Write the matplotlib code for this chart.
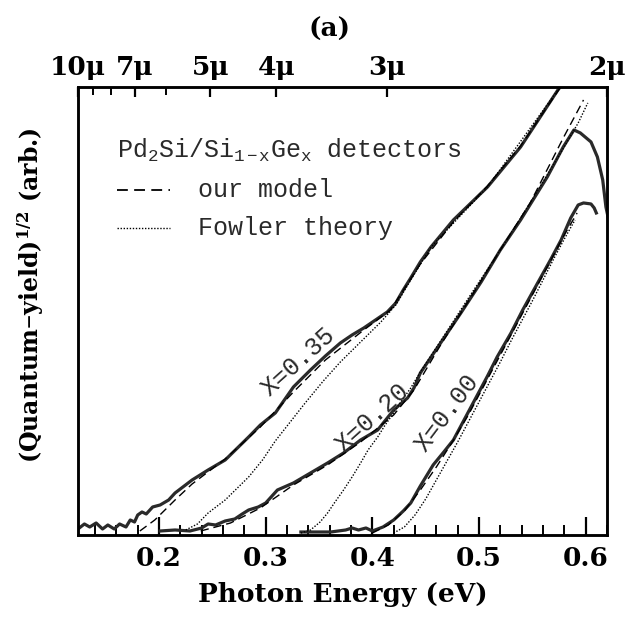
import numpy as np
import matplotlib
matplotlib.use('Agg')
import matplotlib.pyplot as plt
from matplotlib.ticker import FixedLocator, MultipleLocator, NullFormatter

HC = 1.24  # eV*um, photon energy <-> wavelength

# ---------------------------------------------------------------------------
# Data (photon energy in eV, sqrt(quantum yield) in arbitrary units)
# ---------------------------------------------------------------------------

# X = 0.35 measured
meas35_e = [0.124, 0.130, 0.135, 0.141, 0.147, 0.152, 0.158, 0.163, 0.169, 0.173,
            0.177, 0.180, 0.184, 0.188, 0.194, 0.201, 0.209, 0.215, 0.231, 0.246,
            0.262, 0.284, 0.295, 0.309, 0.326, 0.342, 0.356, 0.370, 0.381, 0.392,
            0.403, 0.414, 0.422, 0.429, 0.436, 0.445, 0.455, 0.476, 0.508, 0.539,
            0.574, 0.579]
meas35_y = [6, 11, 8, 12, 6, 10, 6, 11, 8, 15,
            13, 20, 23, 21, 28, 30, 35, 42, 55, 65,
            75, 98, 110, 122, 148, 165, 179, 192, 200, 207,
            215, 223, 232, 245, 257, 273, 288, 315, 348, 388,
            445, 452]

# X = 0.20 measured
meas20_e = [0.201, 0.215, 0.229, 0.240, 0.246, 0.253, 0.262, 0.271, 0.278, 0.284,
            0.293, 0.300, 0.311, 0.326, 0.342, 0.358, 0.373, 0.389, 0.405, 0.420,
            0.433, 0.439, 0.445, 0.464, 0.483, 0.502, 0.520, 0.539, 0.564, 0.579,
            0.589, 0.595, 0.605, 0.611, 0.616, 0.619, 0.621]
meas20_y = [4, 5, 4, 7, 11, 10, 14, 16, 21, 25,
            28, 32, 45, 52, 62, 72, 82, 95, 105, 125,
            137, 147, 162, 192, 222, 253, 285, 315, 358, 388,
            405, 402, 393, 378, 355, 328, 318]

# X = 0.00 measured
meas00_e = [0.333, 0.361, 0.375, 0.381, 0.387, 0.394, 0.400, 0.410, 0.420, 0.429,
            0.436, 0.445, 0.457, 0.467, 0.476, 0.487, 0.497, 0.508, 0.517, 0.530,
            0.541, 0.555, 0.567, 0.577, 0.586, 0.593, 0.598, 0.605, 0.608, 0.610]
meas00_y = [3, 3, 5, 7, 5, 7, 4, 8, 15, 24,
            32, 49, 70, 83, 95, 117, 137, 159, 178, 202,
            225, 252, 275, 295, 317, 330, 332, 331, 327, 322]

# our model (dashed)
model35_e = [0.182, 0.196, 0.215, 0.231, 0.262, 0.295, 0.326, 0.356, 0.392, 0.417,
             0.445, 0.476, 0.508, 0.539, 0.576]
model35_y = [4, 15, 35, 51, 76, 108, 143, 175, 205, 225,
             271, 313, 349, 389, 447]
model20_e = [0.239, 0.267, 0.295, 0.326, 0.358, 0.389, 0.420, 0.439, 0.464, 0.492,
             0.520, 0.548, 0.579, 0.598]
model20_y = [4, 12, 27, 50, 70, 93, 120, 145, 190, 237,
             285, 332, 397, 435]
model00_e = [0.400, 0.415, 0.430, 0.445, 0.460, 0.475, 0.490, 0.505, 0.520, 0.535,
             0.550, 0.565, 0.580, 0.592]
model00_y = [2, 10, 24, 45, 68, 93, 120, 150, 180, 210,
             240, 270, 300, 322]

# Fowler theory (dotted)
fowler35_e = [0.225, 0.236, 0.246, 0.262, 0.284, 0.297, 0.309, 0.323, 0.337, 0.354,
              0.370, 0.389, 0.408, 0.422, 0.436, 0.455, 0.508, 0.574, 0.576]
fowler35_y = [5, 11, 22, 35, 58, 75, 94, 113, 132, 154,
              173, 193, 213, 230, 255, 288, 348, 445, 448]
fowler20_e = [0.333, 0.342, 0.351, 0.358, 0.365, 0.373, 0.381, 0.389, 0.396, 0.405,
              0.412, 0.420, 0.426, 0.436, 0.445, 0.464, 0.492, 0.520, 0.548, 0.577,
              0.593, 0.602]
fowler20_y = [2, 5, 13, 22, 33, 45, 58, 72, 85, 98,
              110, 122, 132, 147, 163, 194, 240, 285, 332, 383,
              412, 432]
fowler00_e = [0.420, 0.430, 0.440, 0.450, 0.460, 0.470, 0.480, 0.490, 0.500, 0.510,
              0.520, 0.530, 0.540, 0.550, 0.560, 0.570, 0.580, 0.590]
fowler00_y = [2, 8, 20, 36, 55, 74, 93, 113, 133, 153,
              173, 194, 214, 234, 255, 276, 296, 315]

curve_labels = ['X=0.35', 'X=0.20', 'X=0.00']
label_e = [0.331, 0.400, 0.4705]
label_y = [173, 117, 122]
label_rot = [42, 42, 53]

wl_major = [10, 7, 5, 4, 3, 2]
wl_minor = [9, 8, 6]

# ---------------------------------------------------------------------------
# Figure
# ---------------------------------------------------------------------------

SERIF_B = dict(family='DejaVu Serif', weight='bold')
MONO = 'Liberation Mono'
INK = '#2a2a2a'

plt.rcParams['mathtext.fontset'] = 'custom'
plt.rcParams['mathtext.rm'] = MONO
plt.rcParams['mathtext.it'] = MONO
plt.rcParams['mathtext.bf'] = 'DejaVu Serif:bold'

fig = plt.figure(figsize=(6.29, 6.21), dpi=100)
ax = fig.add_axes([0.124, 0.1385, 0.841, 0.7215])

for e, y in [(meas35_e, meas35_y), (meas20_e, meas20_y), (meas00_e, meas00_y)]:
    ax.plot(e, y, color=INK, lw=2.3, solid_joinstyle='round')
for e, y in [(model35_e, model35_y), (model20_e, model20_y), (model00_e, model00_y)]:
    ax.plot(e, y, color='black', lw=1.0, dashes=(6, 3.5))
for e, y in [(fowler35_e, fowler35_y), (fowler20_e, fowler20_y), (fowler00_e, fowler00_y)]:
    ax.plot(e, y, color='black', lw=1.0, dashes=(1, 1.2))

for txt, e, y, r in zip(curve_labels, label_e, label_y, label_rot):
    ax.text(e, y, txt, rotation=r, ha='center', va='center', fontsize=18,
            family=MONO, rotation_mode='anchor', color=INK)

# legend, written by hand like the original
ax.text(0.074, 0.859, r'Pd$_\mathrm{2}$Si/Si$_\mathrm{1-x}$Ge$_\mathrm{x}$ detectors',
        transform=ax.transAxes, fontsize=18, family=MONO, va='center', color=INK)
ax.plot([0.074, 0.174], [0.770, 0.770], transform=ax.transAxes, color='black',
        lw=1.3, dashes=(6, 3.5))
ax.plot([0.074, 0.174], [0.685, 0.685], transform=ax.transAxes, color='black',
        lw=1.0, dashes=(1, 1.2))
ax.text(0.227, 0.770, 'our model', transform=ax.transAxes, fontsize=18,
        family=MONO, va='center', color=INK)
ax.text(0.227, 0.685, 'Fowler theory', transform=ax.transAxes, fontsize=18,
        family=MONO, va='center', color=INK)

ax.set_xlim(HC / 10, HC / 2)
ax.set_ylim(0, 448)
ax.set_yticks([])
ax.xaxis.set_major_locator(FixedLocator([0.2, 0.3, 0.4, 0.5, 0.6]))
ax.xaxis.set_minor_locator(MultipleLocator(0.02))
ax.set_xticklabels(['0.2', '0.3', '0.4', '0.5', '0.6'], **SERIF_B, fontsize=19)
ax.tick_params(axis='x', which='major', direction='in', length=13, width=1.6, pad=8)
ax.tick_params(axis='x', which='minor', direction='in', length=7, width=1.4)
ax.set_xlabel('Photon Energy (eV)', **SERIF_B, fontsize=19, labelpad=8)
for sp in ax.spines.values():
    sp.set_linewidth(1.8)

ax2 = ax.twiny()
ax2.set_xlim(ax.get_xlim())
ax2.xaxis.set_major_locator(FixedLocator([HC / w for w in wl_major]))
ax2.xaxis.set_minor_locator(FixedLocator([HC / w for w in wl_minor]))
ax2.xaxis.set_minor_formatter(NullFormatter())
ax2.set_xticklabels([f'{w}\u03bc' for w in wl_major], **SERIF_B, fontsize=19)
ax2.tick_params(axis='x', which='major', direction='in', length=7, width=1.6, pad=5)
ax2.tick_params(axis='x', which='minor', direction='in', length=6, width=1.4)
for sp in ax2.spines.values():
    sp.set_linewidth(1.8)

fig.text(0.524, 0.952, '(a)', ha='center', va='center', fontsize=19, **SERIF_B)
fig.text(0.048, 0.525, r'(Quantum$-$yield)$^{\mathbf{1/2}}$ (arb.)', rotation=90,
         ha='center', va='center', fontsize=17, **SERIF_B)

fig.savefig('out.png', dpi=100)
